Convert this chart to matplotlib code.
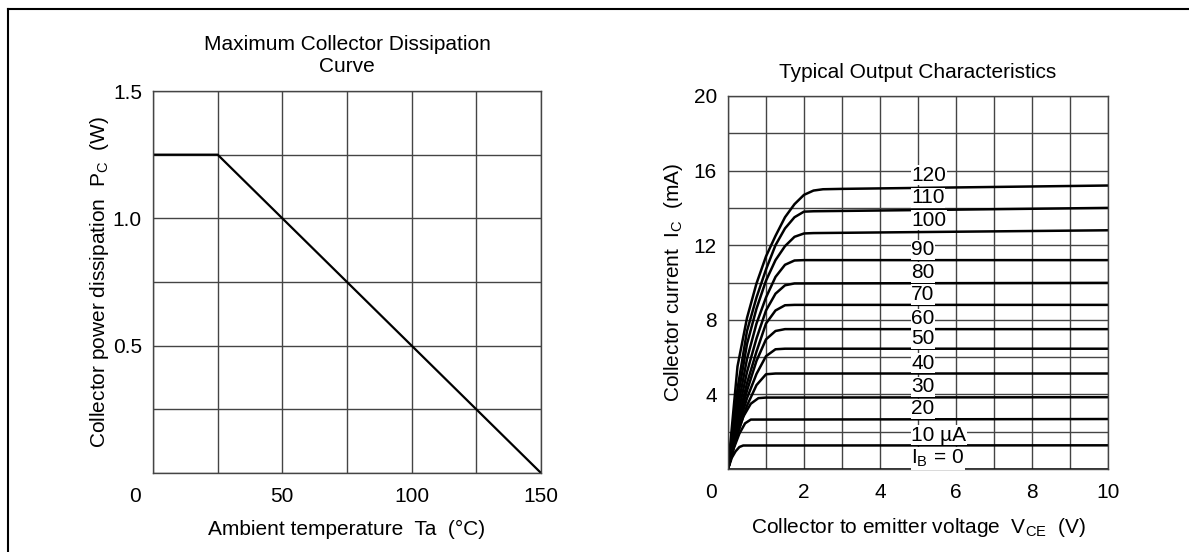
import matplotlib
matplotlib.use("Agg")
import matplotlib.pyplot as plt
from matplotlib.lines import Line2D

plt.rcParams['font.family'] = ['Liberation Sans', 'DejaVu Sans']
plt.rcParams['font.size'] = 15
plt.rcParams['mathtext.fontset'] = 'custom'
plt.rcParams['mathtext.rm'] = 'Liberation Sans'
plt.rcParams['mathtext.it'] = 'Liberation Sans:italic'

# ---- left chart: derating curve
temp = [0, 25, 150]
power = [1.25, 1.25, 0.0]
temp_ticks = [0, 25, 50, 75, 100, 125, 150]
temp_labels = ['', '', '50', '', '100', '', '150']
pow_ticks = [0, 0.25, 0.5, 0.75, 1.0, 1.25, 1.5]
pow_labels = ['', '', '0.5', '', '1.0', '', '1.5']

# ---- right chart: output characteristics
ib_labels = ['$\\mathregular{I_B}$ = 0', '10 µA', '20', '30', '40', '50', '60',
             '70', '80', '90', '100', '110', '120']
vce = {
    0:   [0, 10],
    10:  [0, 0.1, 0.2, 0.3, 0.4, 10],
    20:  [0, 0.15, 0.3, 0.45, 0.6, 10],
    30:  [0, 0.2, 0.4, 0.6, 0.8, 1.0, 10],
    40:  [0, 0.25, 0.5, 0.75, 1.0, 1.25, 10],
    50:  [0, 0.25, 0.5, 0.75, 1.0, 1.25, 1.5, 10],
    60:  [0, 0.25, 0.5, 0.75, 1.0, 1.25, 1.5, 10],
    70:  [0, 0.25, 0.5, 0.75, 1.0, 1.25, 1.5, 1.75, 10],
    80:  [0, 0.25, 0.5, 0.75, 1.0, 1.25, 1.5, 1.75, 10],
    90:  [0, 0.25, 0.5, 0.75, 1.0, 1.25, 1.5, 1.75, 2.0, 10],
    100: [0, 0.25, 0.5, 0.75, 1.0, 1.25, 1.5, 1.75, 2.0, 2.25, 10],
    110: [0, 0.25, 0.5, 0.75, 1.0, 1.25, 1.5, 1.75, 2.0, 2.25, 10],
    120: [0, 0.25, 0.5, 0.75, 1.0, 1.25, 1.5, 1.75, 2.0, 2.25, 2.5, 3.0, 10],
}
ic = {
    0:   [0, 0],
    10:  [0, 0.6, 0.95, 1.18, 1.26, 1.27],
    20:  [0, 1.1, 1.9, 2.45, 2.65, 2.68],
    30:  [0, 1.6, 2.8, 3.5, 3.8, 3.83, 3.85],
    40:  [0, 1.9, 3.4, 4.5, 5.08, 5.12, 5.12],
    50:  [0, 2.1, 3.8, 5.1, 6.05, 6.42, 6.45, 6.45],
    60:  [0, 2.3, 4.2, 5.8, 6.95, 7.4, 7.5, 7.5],
    70:  [0, 2.5, 4.6, 6.3, 7.8, 8.5, 8.78, 8.8, 8.8],
    80:  [0, 2.8, 5.2, 7.0, 8.5, 9.4, 9.85, 9.95, 9.98],
    90:  [0, 3.2, 5.9, 7.8, 9.2, 10.3, 10.95, 11.18, 11.2, 11.2],
    100: [0, 3.7, 6.7, 8.6, 10.1, 11.2, 11.95, 12.45, 12.63, 12.65, 12.8],
    110: [0, 4.3, 7.4, 9.2, 10.7, 12.0, 12.9, 13.5, 13.8, 13.82, 14.0],
    120: [0, 5.5, 8.1, 9.95, 11.4, 12.5, 13.5, 14.2, 14.7, 14.93, 15.0, 15.02, 15.2],
}
v_ticks = list(range(0, 11))
v_labels = ['', '', '2', '', '4', '', '6', '', '8', '', '10']
i_ticks = list(range(0, 21, 2))
i_labels = ['', '', '4', '', '8', '', '12', '', '16', '', '20']

fig = plt.figure(figsize=(11.89, 5.52), dpi=100)
grid_kw = dict(color='#444444', lw=1.0)

def style(ax):
    ax.set_axisbelow(True)
    ax.grid(True, **grid_kw)
    for s in ax.spines.values():
        s.set_color('#444444')
        s.set_linewidth(1.0)
    ax.tick_params(length=0)
    ax.tick_params(axis='x', pad=10)
    ax.tick_params(axis='y', pad=8)

# left
ax1 = fig.add_axes([153/1189, 1-473/552, 388/1189, 382/552])
ax1.plot(temp, power, color='black', lw=1.6)
ax1.set_xlim(0, 150)
ax1.set_ylim(0, 1.5)
ax1.set_xticks(temp_ticks)
ax1.set_xticklabels(temp_labels)
ax1.set_yticks(pow_ticks)
ax1.set_yticklabels(pow_labels)
style(ax1)
ax1.annotate('0', xy=(0, 0), xytext=(-13, -17), textcoords='offset points',
             ha='center', va='center')
ax1.set_title('Maximum Collector Dissipation\nCurve', fontsize=15, pad=14)
ax1.set_xlabel('Ambient temperature  Ta  (°C)', labelpad=10)
ax1.set_ylabel('Collector power dissipation  P$_\\mathregular{C}$  (W)', labelpad=1)

# right
ax2 = fig.add_axes([728/1189, 1-469/552, 380/1189, 373/552])
for k in sorted(ic):
    ax2.plot(vce[k], ic[k], color='black', lw=1.8, solid_capstyle='butt',
             solid_joinstyle='round')
ax2.set_xlim(0, 10)
ax2.set_ylim(0, 20)
ax2.set_xticks(v_ticks)
ax2.set_xticklabels(v_labels)
ax2.set_yticks(i_ticks)
ax2.set_yticklabels(i_labels)
style(ax2)
ax2.annotate('0', xy=(0, 0), xytext=(-12, -17), textcoords='offset points',
             ha='center', va='center')
for lab, k in zip(ib_labels, sorted(ic)):
    ax2.text(4.82, ic[k][-1] + 0.55, lab, ha='left', va='center', zorder=4,
             bbox=dict(facecolor='white', edgecolor='none', pad=0.5))
ax2.set_title('Typical Output Characteristics', fontsize=15, pad=13)
ax2.set_xlabel('Collector to emitter voltage  V$_\\mathregular{CE}$  (V)', labelpad=10)
ax2.set_ylabel('Collector current  I$_\\mathregular{C}$  (mA)', labelpad=6)

# page frame (top and left edge only)
fig.add_artist(Line2D([8/1189, 1], [1-9/552, 1-9/552], color='black', lw=1.5))
fig.add_artist(Line2D([8/1189, 8/1189], [0, 1-9/552], color='black', lw=1.5))

fig.savefig('out.png', dpi=100)
